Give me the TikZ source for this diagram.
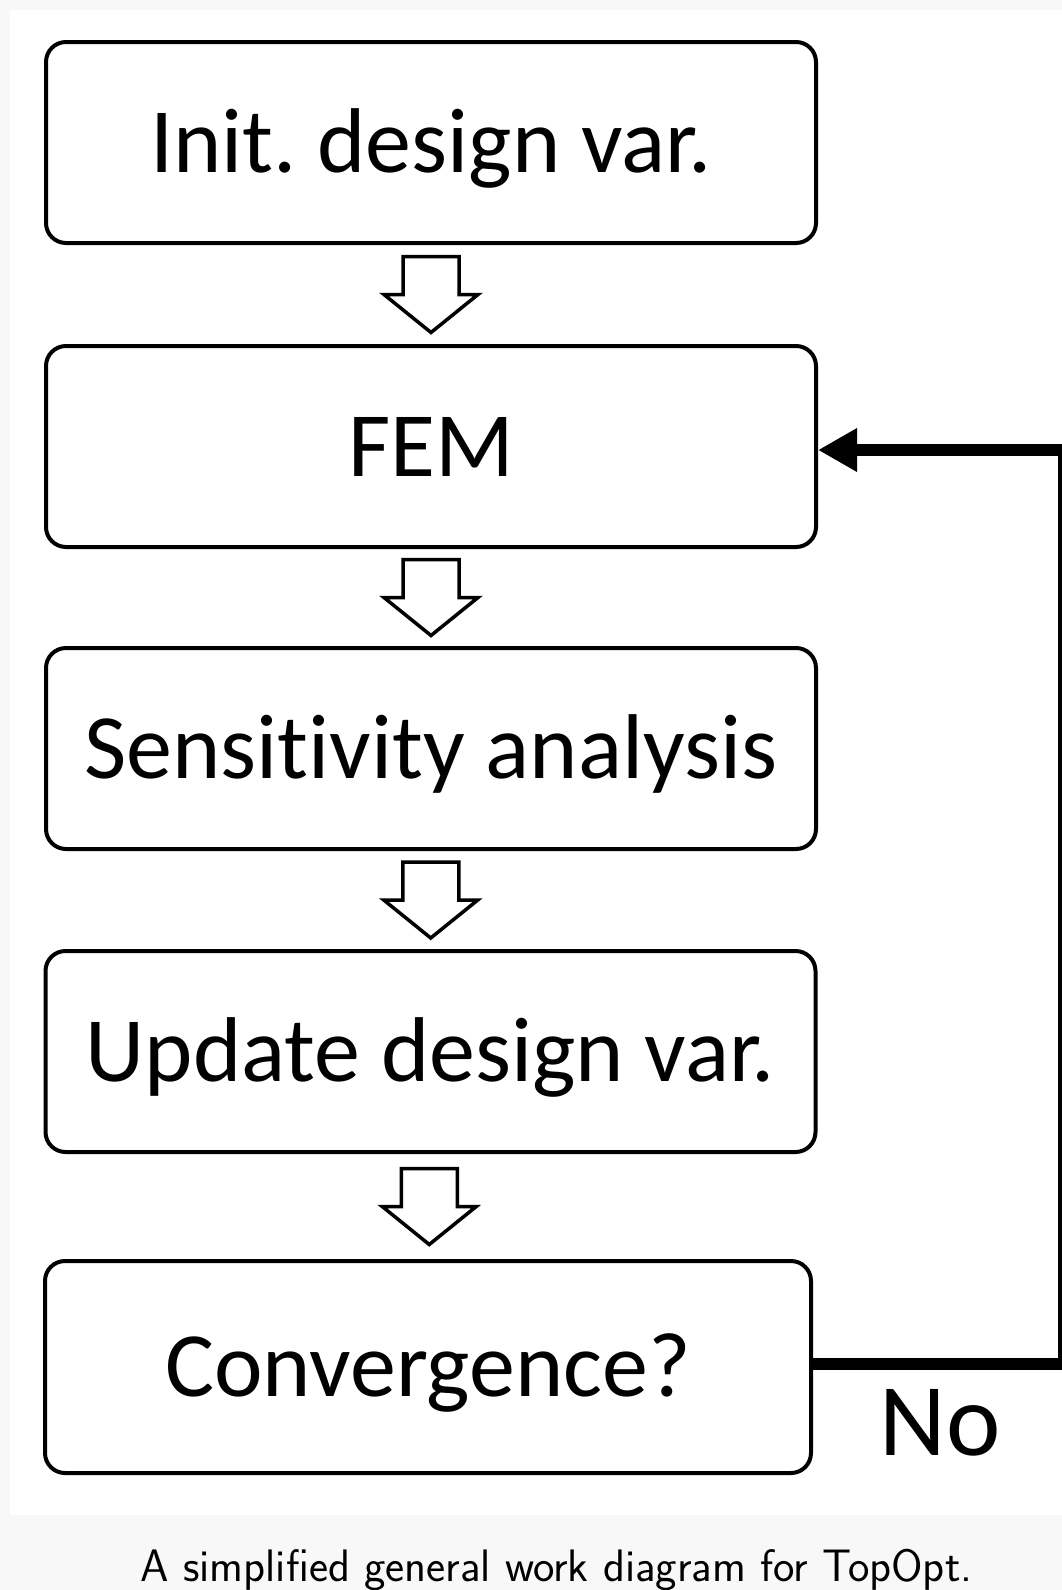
\documentclass[tikz,border=0pt]{standalone}
\usepackage{fontspec}
\newfontfamily\calib[Ligatures=NoCommon]{Carlito}
\usetikzlibrary{arrows.meta,calc}
\definecolor{bggray}{RGB}{248,248,248}
\frenchspacing
\begin{document}
\begin{tikzpicture}[x=1pt,y=-1pt,
  stepbox/.style={draw=black, fill=white, line width=4pt, rounded corners=20pt,
    minimum width=770pt, minimum height=201pt, inner sep=0pt,
    text height=59pt, text depth=0pt,
    font=\calib\fontsize{92}{100}\selectfont},
  downarr/.pic={\draw[line width=3.5pt, line join=miter, fill=white]
    (-28,-38) -- (28,-38) -- (28,0) -- (47,0) -- (0,38) -- (-47,0) -- (-28,0) -- cycle;},
  loopline/.style={line width=12pt, line join=miter, -{Triangle[length=39pt,width=41pt]}}
]
\useasboundingbox (0,0) rectangle (1062,1590);
\fill[bggray] (0,0) rectangle (1062,1590);
\fill[white] (10,10) rectangle (1062,1515);

\node[stepbox] (b1) at (431,142.5) {Init. design var.};
\node[stepbox] (b2) at (431,446.5) {FEM};
\node[stepbox] (b3) at (431,748.5) {Sensitivity analysis};
\node[stepbox] (b4) at (430.5,1051.5) {Update design var.};
\node[stepbox, minimum width=766pt, minimum height=212pt] (b5) at (428,1367) {Convergence?};

\pic at ($(b1.south)!0.5!(b2.north)$) {downarr};
\pic at ($(b2.south)!0.5!(b3.north)$) {downarr};
\pic at ($(b3.south)!0.5!(b4.north)$) {downarr};
\pic at ($(b4.south)!0.5!(b5.north)$) {downarr};

\coordinate (fb1) at (1064,1364);
\coordinate (fb2) at (1064,450);
\draw[loopline] (b5.east |- fb1) -- (fb1) -- (fb2) -- (b2.east |- fb2);

\node[font=\calib\fontsize{103}{110}\selectfont, anchor=base] (no) at (940,1455) {No};

\node[font=\sffamily\fontsize{45.5}{52}\selectfont, anchor=base] (cap) at (556.5,1581) {A simplified general work diagram for TopOpt.};
\end{tikzpicture}
\end{document}
